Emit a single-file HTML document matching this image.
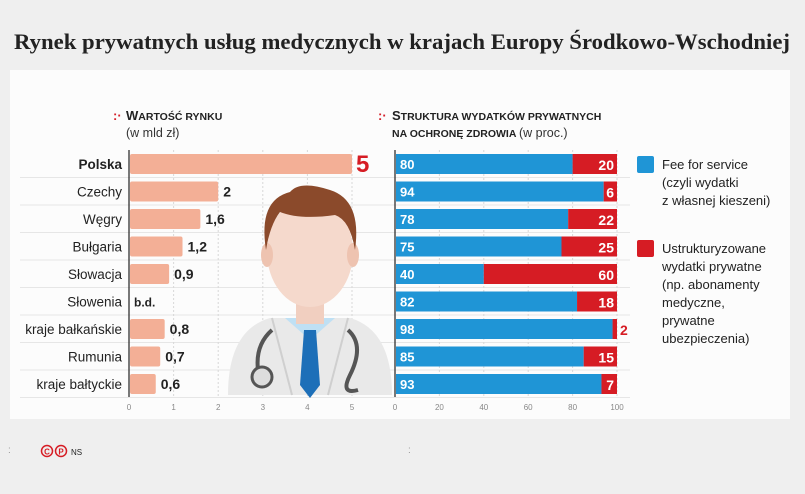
<!DOCTYPE html>
<html><head><meta charset="utf-8">
<style>
body{margin:0;width:805px;height:489px;background:#efefef;font-family:"Liberation Sans",sans-serif;overflow:hidden}
</style></head>
<body>
<svg width="805" height="489" xmlns="http://www.w3.org/2000/svg">
<rect x="10" y="70" width="780" height="349" fill="#fcfcfc"/>
<text x="14" y="49" textLength="776" lengthAdjust="spacingAndGlyphs" font-family="Liberation Serif,serif" font-weight="bold" font-size="22" fill="#222">Rynek prywatnych usług medycznych w krajach Europy Środkowo-Wschodniej</text>

<text x="113" y="120" font-size="13" fill="#d4202a" font-weight="bold">:·</text>
<text x="126" y="120" font-size="13" font-weight="bold" fill="#222">W<tspan font-size="10.5">ARTOŚĆ RYNKU</tspan></text>
<text x="126" y="137" font-size="12.5" fill="#333">(w mld zł)</text>

<text x="378" y="120" font-size="13" fill="#d4202a" font-weight="bold">:·</text>
<text x="392" y="120" font-size="13" font-weight="bold" fill="#222">S<tspan font-size="10.5">TRUKTURA WYDATKÓW PRYWATNYCH</tspan></text>
<text x="392" y="137" font-size="10.5" font-weight="bold" fill="#222">NA OCHRONĘ ZDROWIA <tspan font-weight="normal" font-size="12.5" fill="#333">(w proc.)</tspan></text>

<g id="grid"></g>
<g id="doctor">
 <path d="M228 395 Q228 330 270 318 L350 318 Q392 330 392 395 Z" fill="#e9e9e9"/>
 <path d="M285 318 L310 340 L335 318 Z" fill="#bfe0f4"/>
 <path d="M304 330 L316 330 L320 385 L310 398 L300 385 Z" fill="#1d6fb8"/>
 <path d="M272 318 L292 395 M348 318 L328 395" stroke="#cfcfcf" stroke-width="2" fill="none"/>
 <rect x="296" y="296" width="28" height="28" fill="#f1cfc0"/>
 <ellipse cx="310" cy="252" rx="43" ry="55" fill="#f5d9cc"/>
 <ellipse cx="267" cy="255" rx="6" ry="12" fill="#eec3b0"/>
 <ellipse cx="353" cy="255" rx="6" ry="12" fill="#eec3b0"/>
 <path d="M266 250 Q258 200 290 192 Q300 180 330 190 Q362 200 355 250 Q350 220 335 215 Q300 220 280 212 Q270 225 266 250 Z" fill="#8b4a2b"/>
 <path d="M272 330 Q255 345 258 370" stroke="#555" stroke-width="4" fill="none"/>
 <circle cx="262" cy="377" r="10" fill="#ddd" stroke="#555" stroke-width="3"/>
 <path d="M348 330 Q365 345 350 375 Q340 395 358 390" stroke="#555" stroke-width="4" fill="none"/>
</g>
<g id="leftBars"></g>
<g id="rightBars"></g>

<rect x="637" y="156" width="17" height="17" rx="2" fill="#1f95d6"/>
<text font-size="13" fill="#222"><tspan x="662" y="169">Fee for service</tspan><tspan x="662" y="187">(czyli wydatki</tspan><tspan x="662" y="205">z własnej kieszeni)</tspan></text>
<rect x="637" y="240" width="17" height="17" rx="2" fill="#d61c24"/>
<text font-size="13" fill="#222"><tspan x="662" y="253">Ustrukturyzowane</tspan><tspan x="662" y="271">wydatki prywatne</tspan><tspan x="662" y="289">(np. abonamenty</tspan><tspan x="662" y="307">medyczne,</tspan><tspan x="662" y="325">prywatne</tspan><tspan x="662" y="343">ubezpieczenia)</tspan></text>

<text x="8" y="453" font-size="10" fill="#999">:</text>
<circle cx="47" cy="451" r="5.5" fill="none" stroke="#d61c24" stroke-width="1.5"/>
<text x="47" y="454.5" text-anchor="middle" font-size="8" font-weight="bold" fill="#d61c24">C</text>
<circle cx="61" cy="451" r="5.5" fill="none" stroke="#d61c24" stroke-width="1.5"/>
<text x="61" y="454.5" text-anchor="middle" font-size="8" font-weight="bold" fill="#d61c24">P</text>
<text x="71" y="455" font-size="8" fill="#222">NS</text>
<text x="408" y="453" font-size="10" fill="#999">:</text>
</svg>
<script>
const countries=["Polska","Czechy","Węgry","Bułgaria","Słowacja","Słowenia","kraje bałkańskie","Rumunia","kraje bałtyckie"];
const marketValues=[5,2,1.6,1.2,0.9,null,0.8,0.7,0.6];
const marketLabels=["5","2","1,6","1,2","0,9","b.d.","0,8","0,7","0,6"];
const feeShare=[80,94,78,75,40,82,98,85,93];
const structuredShare=[20,6,22,25,60,18,2,15,7];
const leftTicks=[0,1,2,3,4,5];
const rightTicks=[0,20,40,60,80,100];

const NS="http://www.w3.org/2000/svg";
const xL=v=>129+v*44.6, xR=v=>395+v*2.22, yRow=i=>164+i*27.5;
function mk(tag,attrs,parent,txt){const e=document.createElementNS(NS,tag);for(const k in attrs)e.setAttribute(k,attrs[k]);if(txt!=null)e.textContent=txt;parent.appendChild(e);return e;}
const grid=document.getElementById('grid'),lb=document.getElementById('leftBars'),rb=document.getElementById('rightBars');
countries.forEach((c,i)=>{const y=yRow(i);
 const g=mk('line',{x1:20,x2:630,y1:y+13.5,y2:y+13.5,stroke:'#e6e6e6','stroke-width':1},grid);
 
 });
leftTicks.forEach(t=>{
 const l=mk('line',{x1:xL(t),x2:xL(t),y1:150,y2:397,stroke:'#d8d8d8','stroke-dasharray':'2,2'},grid);
 
 
 const tx=mk('text',{x:xL(t),y:410,'text-anchor':'middle','font-size':8,fill:'#888'},grid,t);
 
 });
rightTicks.forEach(t=>{
 const l=mk('line',{x1:xR(t),x2:xR(t),y1:150,y2:397,stroke:'#d8d8d8','stroke-dasharray':'2,2'},grid);
 
 
 const tx=mk('text',{x:xR(t),y:410,'text-anchor':'middle','font-size':8,fill:'#888'},grid,t);
 
 });
const ax1=mk('line',{x1:129,x2:129,y1:150,y2:397,stroke:'#222','stroke-width':1.2},grid);


const ax2=mk('line',{x1:395,x2:395,y1:150,y2:397,stroke:'#222','stroke-width':1.2},grid);



countries.forEach((c,i)=>{const y=yRow(i);
 const lab=mk('text',{x:122,y:y+5,'text-anchor':'end','font-size':13.5,fill:'#222','font-weight':i==0?'bold':'normal'},lb,c);
 
 
 const v=marketValues[i];
 if(v!=null){
  const r=mk('rect',{x:130,y:y-10,width:xL(v)-130,height:20,rx:2,fill:'#f3af96'},lb);
  
  
 }
 const big=i==0;
 const vt=mk('text',{x:v!=null?xL(v)+(big?4:5):134,y:y+(big?8:5),'font-size':big?24:(v==null?12:14),'font-weight':'bold',fill:big?'#d61c24':'#222'},lb,marketLabels[i]);
 
 
 const f=feeShare[i],s=structuredShare[i];
 const fb=mk('rect',{x:396,y:y-10,width:xR(f)-396,height:20,fill:'#1f95d6'},rb);
 
 
 const sb=mk('rect',{x:xR(f),y:y-10,width:xR(f+s)-xR(f),height:20,fill:'#d61c24'},rb);
 
 
 const ft=mk('text',{x:400,y:y+5,'font-size':13,'font-weight':'bold',fill:'#fff'},rb,f);
 
 
 const inside=s>=5;
 const st=mk('text',{x:inside?xR(f+s)-3:xR(f+s)+3,y:y+6,'text-anchor':inside?'end':'start','font-size':14,'font-weight':'bold',fill:inside?'#fff':'#d61c24'},rb,s);
 
 
});
</script>
</body></html>
